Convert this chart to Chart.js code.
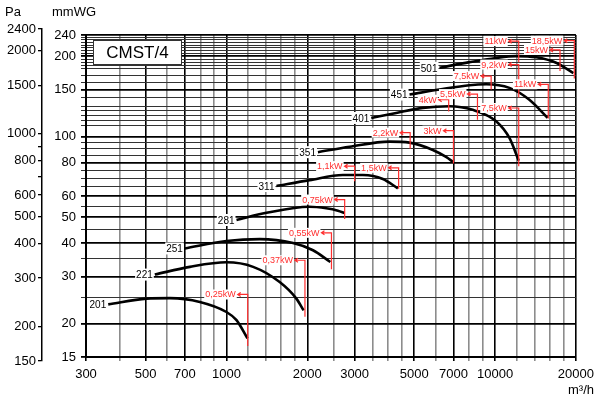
<!DOCTYPE html>
<html>
<head>
<meta charset="utf-8">
<script src="https://cdn.jsdelivr.net/npm/chart.js@4.4.1/dist/chart.umd.min.js"></script>
<style>
  body { margin: 0; background: #fff; }
</style>
</head>
<body>
<canvas id="fanChart" width="600" height="397"></canvas>
<script>
// fan curves CMST/4 - flow in m3/h, pressure in mmWG
var curveNames = ['201', '221', '251', '281', '311', '351', '401', '451', '501']

var q201 = [363, 504, 616, 796, 1000, 1090, 1197]
var p201 = [23.6, 24.8, 24.9, 24.1, 22.1, 20.6, 17.6]
var q221 = [541, 731, 1000, 1257, 1578, 1821, 1938]
var p221 = [30.5, 32.6, 33.9, 32.6, 28.6, 24.8, 22.4]
var q251 = [700, 1000, 1330, 1770, 2100, 2436]
var p251 = [38.2, 40.7, 41.4, 40.0, 37.6, 34.0]
var q281 = [1090, 1409, 2029, 2353, 2600, 2755]
var p281 = [48.8, 51.9, 54.7, 54.0, 52.9, 51.8]
var q311 = [1535, 2040, 2713, 3222, 3823, 4347]
var p311 = [65.4, 68.8, 71.9, 71.9, 69.5, 64.1]
var q351 = [2191, 2875, 4048, 4804, 5866, 6570, 6995]
var p351 = [87.5, 91.7, 95.8, 95.0, 89.2, 84.0, 80.3]
var q401 = [3460, 4287, 5383, 6766, 8250, 10090, 11310, 12250]
var p401 = [117.5, 122.7, 128.1, 130, 126, 114.2, 98.9, 81.3]
var q451 = [4804, 6210, 8030, 9263, 11310, 13420, 15700]
var p451 = [143.7, 150, 155.8, 157, 152.2, 137.4, 117.5]
var q501 = [6210, 8030, 10090, 11970, 14220, 16870, 19560]
var p501 = [180.9, 190, 197, 200, 198, 189, 173]

var curveQ = [q201, q221, q251, q281, q311, q351, q401, q451, q501]
var curveP = [p201, p221, p251, p281, p311, p351, p401, p451, p501]

// motor power markers: text, flow of the red line, line from / to (mmWG)
var kwText = ['0,25kW', '0,37kW', '0,55kW', '0,75kW', '1,1kW', '1,5kW', '2,2kW', '3kW', '4kW', '5,5kW', '7,5kW', '7,5kW', '9,2kW', '11kW', '11kW', '15kW', '18,5kW']
var kwFlow = [1200, 1960, 2460, 2755, 3000, 4375, 4830, 7000, 6720, 8600, 12250, 9670, 12250, 15780, 12250, 17450, 19725]
var kwFrom = [16.5, 21.2, 31.9, 49.2, 68.1, 63.8, 90.1, 79.3, 124.3, 115.7, 77.6, 150, 140, 117, 190, 176, 165]
var kwTo = [25.7, 34.5, 43.7, 58.2, 77.6, 76.5, 103.5, 105.3, 137.4, 144.3, 128, 168.5, 186, 157, 227.6, 211, 228.5]

// axes
var xGrid = [300, 400, 500, 600, 700, 800, 900, 1000, 1200, 1400, 1600, 1800, 2000, 2500, 3000, 3500, 4000, 4500, 5000, 6000, 7000, 8000, 9000, 10000, 12000, 14000, 16000, 18000, 20000]
var xLabels = [300, 500, 700, 1000, 2000, 3000, 5000, 7000, 10000, 20000]
var mmGrid = [15, 20, 25, 30, 35, 40, 45, 50, 55, 60, 65, 70, 75, 80, 85, 90, 95, 100, 110, 115, 120, 125, 130, 140, 150, 160, 170, 180, 185, 190, 195, 200, 205, 210, 215, 220, 225, 230, 235, 240]
var mmLabels = [15, 20, 30, 40, 50, 60, 80, 100, 150, 200, 240]
var paTicks = [150, 200, 300, 400, 500, 600, 700, 800, 900, 1000, 1500, 2000, 2400]
var paLabels = [150, 200, 300, 400, 500, 600, 800, 1000, 1500, 2000, 2400]

var FONT = '"Liberation Sans", Arial, sans-serif'
var RED = '#ff2e2e'

// Pa axis in the drawing runs a bit past the plot frame
var paAxisStretch = {
  id: 'paAxisStretch',
  afterLayout: function(chart) {
    var s = chart.scales.yPa
    s.top = chart.chartArea.top - 6
    s.bottom = chart.chartArea.bottom + 4
    s.height = s.bottom - s.top
    s.configure()
  }
}

var curveTags = {
  id: 'curveTags',
  afterDatasetsDraw: function(chart) {
    var ctx = chart.ctx
    ctx.save()
    ctx.font = '10px ' + FONT
    ctx.textAlign = 'right'
    ctx.textBaseline = 'middle'
    chart.data.datasets.forEach(function(ds, i) {
      var pt = chart.getDatasetMeta(i).data[0]
      var w = ctx.measureText(ds.label).width
      ctx.fillStyle = '#fff'
      ctx.fillRect(pt.x - w - 3, pt.y - 6, w + 2, 12)
      ctx.fillStyle = '#000'
      ctx.fillText(ds.label, pt.x - 2, pt.y + 1)
    })

    // power markers
    var xs = chart.scales.x, ys = chart.scales.y
    ctx.font = '9px ' + FONT
    kwText.forEach(function(t, i) {
      var x = xs.getPixelForValue(kwFlow[i])
      var y0 = ys.getPixelForValue(kwFrom[i])
      var y1 = ys.getPixelForValue(kwTo[i])
      var tip = x - 10
      var w = ctx.measureText(t).width
      ctx.fillStyle = '#fff'
      ctx.fillRect(tip - w - 3, y1 - 5, w + 2, 10)
      ctx.strokeStyle = RED
      ctx.lineWidth = 1.2
      ctx.beginPath()
      ctx.moveTo(x, y0)
      ctx.lineTo(x, y1)
      ctx.lineTo(tip, y1)
      ctx.moveTo(tip + 3, y1 - 2)
      ctx.lineTo(tip, y1)
      ctx.lineTo(tip + 3, y1 + 2)
      ctx.stroke()
      ctx.fillStyle = RED
      ctx.fillText(t, tip - 2, y1 + 0.5)
    })
    ctx.restore()
  },
  afterDraw: function(chart) {
    var ctx = chart.ctx, a = chart.chartArea
    ctx.save()
    ctx.fillStyle = '#000'
    ctx.font = '13px ' + FONT
    ctx.textBaseline = 'middle'
    ctx.textAlign = 'left'
    ctx.fillText('Pa', 5, 12)
    ctx.fillText('mmWG', 52, 12)
    ctx.textAlign = 'right'
    ctx.fillText('m\u00b3/h', chart.width - 6, 390)

    // type box
    ctx.fillStyle = '#fff'
    ctx.fillRect(a.left + 7.5, a.top + 5.5, 88, 24)
    ctx.strokeStyle = '#333'
    ctx.lineWidth = 1
    ctx.strokeRect(a.left + 7.5, a.top + 5.5, 88, 24)
    ctx.fillStyle = '#000'
    ctx.font = '17px ' + FONT
    ctx.textAlign = 'center'
    ctx.fillText('CMST/4', a.left + 51.5, a.top + 18)
    ctx.restore()
  }
}

var ctx = document.getElementById('fanChart')
var fanChart = new Chart(ctx, {
  type: 'line',
  data: {
    datasets: curveNames.map(function(name, i) {
      return {
        label: name,
        data: curveQ[i].map(function(q, j) { return {x: q, y: curveP[i][j]} }),
        borderColor: '#000',
        borderWidth: 2.6,
        pointRadius: 0,
        cubicInterpolationMode: 'monotone',
        fill: false,
        yAxisID: 'y'
      }
    })
  },
  options: {
    responsive: false,
    animation: false,
    devicePixelRatio: 1,
    layout: { padding: { left: 0, right: 23, top: 35, bottom: 0 } },
    plugins: {
      legend: { display: false },
      tooltip: { enabled: false }
    },
    scales: {
      x: {
        type: 'logarithmic',
        position: 'bottom',
        min: 300,
        max: 20000,
        afterBuildTicks: function(s) { s.ticks = xGrid.map(function(v) { return {value: v} }) },
        afterFit: function(s) { s.height = 40 },
        ticks: {
          autoSkip: false,
          maxRotation: 0,
          padding: 6,
          color: '#000',
          font: { family: FONT, size: 13 },
          callback: function(v) { return xLabels.indexOf(v) >= 0 ? String(v) : '' }
        },
        grid: {
          tickLength: 4,
          color: function(c) { return xLabels.indexOf(c.tick.value) >= 0 ? '#000' : '#8c8c8c' },
          lineWidth: 1.6
        },
        border: { color: '#000', width: 2 }
      },
      y: {
        type: 'logarithmic',
        position: 'left',
        weight: 0,
        min: 15,
        max: 240,
        afterBuildTicks: function(s) { s.ticks = mmGrid.map(function(v) { return {value: v} }) },
        afterFit: function(s) { s.width = 44 },
        ticks: {
          autoSkip: false,
          padding: 5,
          color: '#000',
          font: { family: FONT, size: 13 },
          callback: function(v) { return mmLabels.indexOf(v) >= 0 ? String(v) : '' }
        },
        grid: {
          tickLength: 5,
          color: function(c) { return mmLabels.indexOf(c.tick.value) >= 0 ? '#000' : '#333' },
          lineWidth: function(c) { return mmLabels.indexOf(c.tick.value) >= 0 ? 1.8 : 1 }
        },
        border: { color: '#000', width: 2 }
      },
      yPa: {
        type: 'logarithmic',
        position: 'left',
        weight: 1,
        min: 150,
        max: 2400,
        afterBuildTicks: function(s) { s.ticks = paTicks.map(function(v) { return {value: v} }) },
        afterFit: function(s) { s.width = 42 },
        ticks: {
          autoSkip: false,
          padding: 2,
          color: '#000',
          font: { family: FONT, size: 13 },
          callback: function(v) { return paLabels.indexOf(v) >= 0 ? String(v) : '' }
        },
        grid: {
          drawOnChartArea: false,
          tickLength: 4,
          color: '#000',
          lineWidth: 1.3
        },
        border: { color: '#000', width: 1.5 }
      }
    }
  },
  plugins: [paAxisStretch, curveTags]
});
</script>
</body>
</html>
